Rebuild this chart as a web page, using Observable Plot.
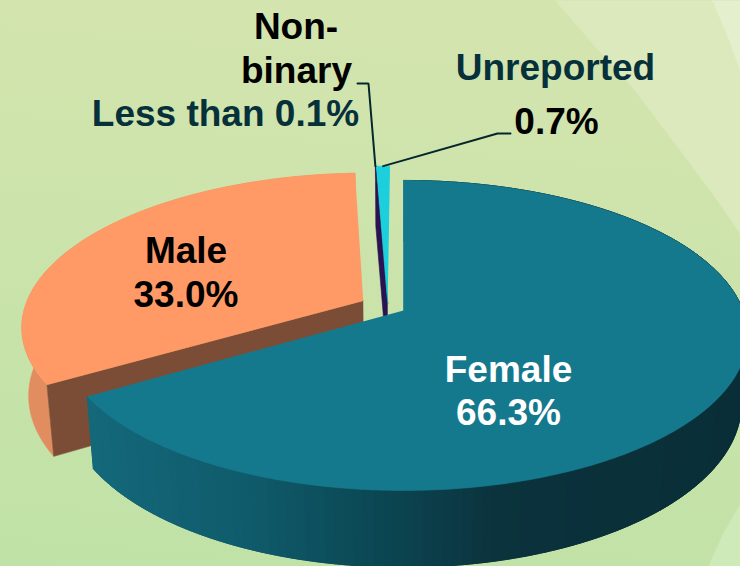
<!DOCTYPE html>
<html>
<head>
<meta charset="utf-8">
<script src="https://cdn.jsdelivr.net/npm/d3@7"></script>
<script src="https://cdn.jsdelivr.net/npm/@observablehq/plot@0.6"></script>
<style>
html,body{margin:0;padding:0;background:#c6e4ad}
svg{display:block}
</style>
</head>
<body>
<div id="chart"></div>
<script>
// Data
const categories = ["Female", "Male", "Non-binary", "Unreported"];
const shares = [66.3, 33.0, 0.05, 0.7];
const shareLabels = ["66.3%", "33.0%", "Less than 0.1%", "0.7%"];

// Styling / layout, kept apart from the values
const topColors = ["#15798d", "#ff9a66", "#2b1250", "#1bcfdc"];
const radialWall = [null, "#7c4d36", "#2b1250", null];
const rimColors = [null, "#e28d60", null, null];
const offsetX = [0, -0.12, -0.047, -0.047];
const offsetY = [0, -0.066, -0.05, -0.05];
const radius = [1, 1, 1.08, 1.08];

// Perspective of a tilted disc, unit circle -> page
const view = {cx: 403, cy: 310, kx: 339.5, ky: 151, persp: -0.161, depth: 69, shrink: 0.018};
function project(X, Y, z) {
  const den = 1 + view.persp * Y + view.shrink * z;
  return [view.cx + view.kx * X / den, view.cy + (view.ky * Y + view.depth * z) / den];
}

const arcs = d3.pie().sort(null).value(d => d).startAngle(0).endAngle(2 * Math.PI)(shares);

function rimPoint(i, theta, z) {
  return project(offsetX[i] + radius[i] * Math.sin(theta), offsetY[i] - radius[i] * Math.cos(theta), z);
}
function apex(i, z) { return project(offsetX[i], offsetY[i], z); }
function rimThetas(i) {
  const a = arcs[i], n = Math.max(2, Math.ceil((a.endAngle - a.startAngle) * 80));
  return d3.range(n + 1).map(k => a.startAngle + (a.endAngle - a.startAngle) * k / n);
}

const wallShade = d3.scaleLinear()
  .domain([90, 250, 400, 500, 740])
  .range(["#14687a", "#0f5b6b", "#0b4450", "#0b333d", "#092e37"])
  .clamp(true);

const polys = [];
function addPoly(id, color, pts) {
  pts.forEach(p => polys.push({id, color, x: p[0], y: p[1]}));
}

// Backdrop swooshes
addPoly("bg1", "#dbe9bd", [[555,0],[600,52],[633,88],[680,150],[717,200],[740,234],[740,0]]);
addPoly("bg2", "#e4efcd", [[712,0],[725,30],[740,70],[740,0]]);
addPoly("bg3", "#cdeab8", [[708,566],[722,535],[740,503],[740,566]]);

// Male rim + radial wall
{
  const i = 1, ths = rimThetas(i);
  addPoly("m-rim", rimColors[i], [...ths.map(t => rimPoint(i, t, 0)), ...ths.slice().reverse().map(t => rimPoint(i, t, 1))]);
  const s = arcs[i].startAngle;
  addPoly("m-wall", radialWall[i], [apex(i, 0), rimPoint(i, s, 0), rimPoint(i, s, 1), apex(i, 1)]);
  addPoly("m-top", topColors[i], [apex(i, 0), ...ths.map(t => rimPoint(i, t, 0))]);
}
// Non-binary wall and top, Unreported top
{
  const i = 2, s = arcs[i].startAngle;
  addPoly("n-wall", radialWall[i], [apex(i, 0), rimPoint(i, s, 0), rimPoint(i, s, 1), apex(i, 1)]);
  addPoly("n-top", topColors[i], [apex(i, 0), ...rimThetas(i).map(t => rimPoint(i, t, 0))]);
  addPoly("u-top", topColors[3], [apex(3, 0), ...rimThetas(3).map(t => rimPoint(3, t, 0))]);
}
// Female rim in overlapping shaded strips, so no seams show, then top
{
  const i = 0, ths = rimThetas(i), span = 6;
  for (let k = 0; k < ths.length - 1; k += 2) {
    const e = Math.min(k + span, ths.length - 1);
    const seg = ths.slice(k, e + 1);
    const mid = rimPoint(i, ths[k], 0)[0];
    addPoly("f-rim" + k, wallShade(mid), [
      ...seg.map(t => rimPoint(i, t, 0)),
      ...seg.slice().reverse().map(t => rimPoint(i, t, 1))
    ]);
  }
  addPoly("f-top", topColors[i], [apex(i, 0), ...ths.map(t => rimPoint(i, t, 0))]);
}

// Text placement
const labelRows = [
  {text: "Non-", x: 295.5, y: 27, color: "#000"},
  {text: "binary", x: 296, y: 71, color: "#000"},
  {text: shareLabels[2], x: 225, y: 114, color: "#06303a"},
  {text: categories[3], x: 555, y: 68, color: "#06303a"},
  {text: shareLabels[3], x: 556, y: 122, color: "#000"},
  {text: categories[1], x: 185.5, y: 251, color: "#000"},
  {text: shareLabels[1], x: 185.5, y: 295, color: "#000"},
  {text: categories[0], x: 508, y: 370, color: "#fff"},
  {text: shareLabels[0], x: 508, y: 413, color: "#fff"}
];

// Leader lines end on the slices' rims
const uMid = (arcs[3].startAngle + arcs[3].endAngle) / 2;
const nbEnd = rimPoint(2, arcs[2].startAngle, 0);
const uEnd = rimPoint(3, uMid, 0);
const leaders = [
  {id: "nb", x: 357, y: 83}, {id: "nb", x: 368, y: 83}, {id: "nb", x: nbEnd[0], y: nbEnd[1]},
  {id: "un", x: 510, y: 133}, {id: "un", x: 497, y: 133}, {id: "un", x: uEnd[0], y: uEnd[1]}
];

const chart = Plot.plot({
  width: 740,
  height: 566,
  margin: 0,
  x: {domain: [0, 740], range: [0, 740], axis: null},
  y: {domain: [0, 566], range: [0, 566], axis: null},
  style: {background: "linear-gradient(185deg, #d5e4af 0%, #cfe4ac 30%, #c8e3aa 60%, #c0e2a7 100%)"},
  marks: [
    Plot.line(polys, {x: "x", y: "y", z: "id", fill: "color", stroke: "color", strokeWidth: 0.6, curve: "linear"}),
    Plot.line(leaders, {x: "x", y: "y", z: "id", stroke: "#05262c", strokeWidth: 2, strokeLinejoin: "miter"}),
    Plot.text(labelRows, {
      x: "x", y: "y", text: "text", fill: "color",
      fontFamily: "Liberation Sans", fontWeight: "bold", fontSize: 37,
      textAnchor: "middle", lineAnchor: "middle"
    })
  ]
});
document.getElementById("chart").appendChild(chart);
</script>
</body>
</html>
